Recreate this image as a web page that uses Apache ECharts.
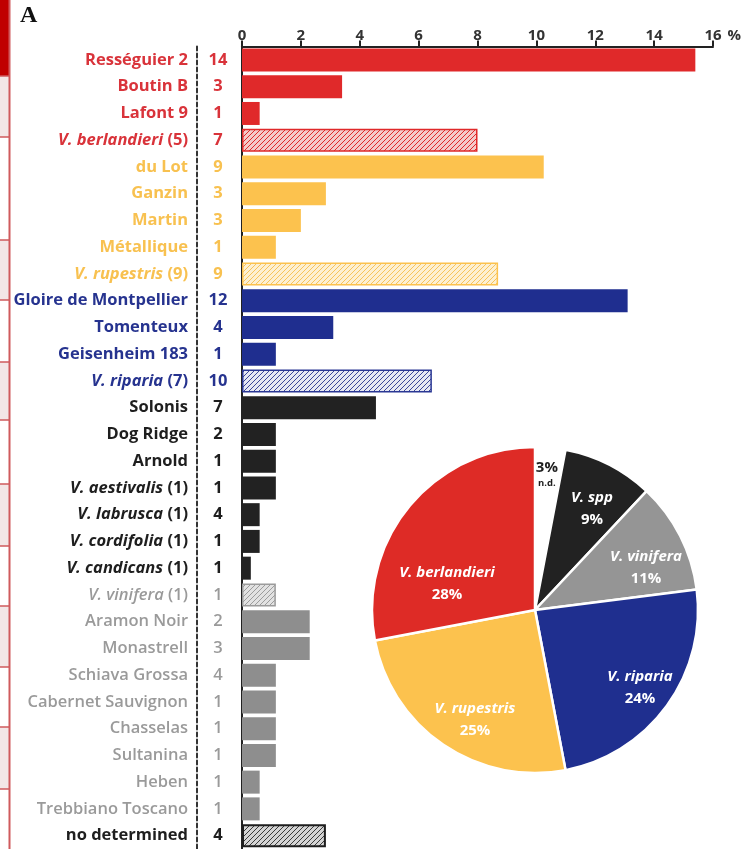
<!DOCTYPE html>
<html><head><meta charset="utf-8">
<script src="https://cdn.jsdelivr.net/npm/echarts@6/dist/echarts.min.js"></script>
<style>html,body{margin:0;padding:0;background:#fff}#c{width:745px;height:849px}</style>
</head><body><div id="c"></div>
<script>
// ---------- data ----------
const categories = ['Rességuier 2','Boutin B','Lafont 9','V. berlandieri (5)','du Lot','Ganzin','Martin','Métallique','V. rupestris (9)','Gloire de Montpellier','Tomenteux','Geisenheim 183','V. riparia (7)','Solonis','Dog Ridge','Arnold','V. aestivalis (1)','V. labrusca (1)','V. cordifolia (1)','V. candicans (1)','V. vinifera (1)','Aramon Noir','Monastrell','Schiava Grossa','Cabernet Sauvignon','Chasselas','Sultanina','Heben','Trebbiano Toscano','no determined'];
const counts = [14,3,1,7,9,3,3,1,9,12,4,1,10,7,2,1,1,4,1,1,1,2,3,4,1,1,1,1,1,4];
const percentages = [15.4,3.4,0.6,8.0,10.25,2.85,2.0,1.15,8.7,13.1,3.1,1.15,6.45,4.55,1.15,1.15,1.15,0.6,0.6,0.3,1.15,2.3,2.3,1.15,1.15,1.15,1.15,0.6,0.6,2.85];
const groups = ['r','r','r','r','y','y','y','y','y','b','b','b','b','k','k','k','k','k','k','k','g','g','g','g','g','g','g','g','g','k'];
const hatchedRows = [3,8,12,20,29];
const xTicks = {min:0, max:16, step:2, unit:'%'};
const pieNames = ['n.d.','V. spp','V. vinifera','V. riparia','V. rupestris','V. berlandieri'];
const pieValues = [3,9,11,24,25,28];
const pieLabels = ['3%','9%','11%','24%','25%','28%'];

// ---------- styles ----------
const FONT = 'Open Sans';
const textColors = {r:'#d9333a', y:'#f8c150', b:'#26338f', k:'#1e1e1e', g:'#9a9a9a'};
const barColors  = {r:'#e0292a', y:'#fcc24e', b:'#1f2e8f', k:'#222222', g:'#8e8e8e'};
const hatchStyle = {
  r:{bg:'#f3caca', line:'#e0292a', border:'#e0292a'},
  y:{bg:'#fdf0d2', line:'#f7c45a', border:'#fcc24e'},
  b:{bg:'#e6e8f3', line:'#3a4699', border:'#2a3794'},
  g:{bg:'#e2e2e2', line:'#9c9c9c', border:'#9c9c9c'},
  k:{bg:'#d4d4d4', line:'#3a3a3a', border:'#1e1e1e'}
};
function hatch(g){
  const s = hatchStyle[g];
  const c = document.createElement('canvas');
  c.width = 5; c.height = 5;
  const x = c.getContext('2d');
  x.fillStyle = s.bg; x.fillRect(0,0,5,5);
  x.strokeStyle = s.line; x.lineWidth = 1;
  x.beginPath();
  x.moveTo(-1,6); x.lineTo(6,-1);
  x.moveTo(-1,1); x.lineTo(1,-1);
  x.moveTo(4,6); x.lineTo(6,4);
  x.stroke();
  return {image:c, repeat:'repeat'};
}

const barData = percentages.map((v,i)=>{
  const g = groups[i];
  if (hatchedRows.includes(i)) {
    const h = i===29 ? 'k' : g;
    return {value:v, itemStyle:{color:hatch(h), borderColor:hatchStyle[h].border, borderWidth:i===29?2:1.5}};
  }
  return {value:v, itemStyle:{color:barColors[g]}};
});

const rich = {};
Object.keys(textColors).forEach(g=>{
  const w = g==='g' ? 600 : 'bold';
  rich[g]     = {color:textColors[g], fontFamily:FONT, fontSize:16.5, fontWeight:w};
  rich[g+'i'] = {color:textColors[g], fontFamily:FONT, fontSize:16.5, fontWeight:w, fontStyle:'italic'};
});

function nameLabel(v, i){
  const g = groups[i];
  const m = v.match(/^(V\. [a-z]+)(.*)$/);
  if (m) return '{'+g+'i|'+m[1]+'}{'+g+'|'+m[2]+'}';
  return '{'+g+'|'+v+'}';
}

const pieColors = ['#ffffff','#222222','#959595','#1f2f8f','#fcc24e','#de2b26'];
const pieCenter = [535, 610];
const pieRadius = 163;
// label placement inside the pie: [angle clockwise from top (deg), distance from centre (px)]
const pieLabelPolar = [[5,136],[29.4,116],[69.3,118.7],[126.6,130.8],[208.6,125.3],[286.5,91.8]];

// left border decoration (cropped table edge)
const bands = [0,76,137,240,300,362,420,484,546,606,667,727,789,849];
const graphics = [];
for (let k=0;k<bands.length-1;k++){
  const fill = k===0 ? '#c00000' : (k%2===1 ? '#f3e7e7' : '#ffffff');
  graphics.push({type:'rect', shape:{x:0,y:bands[k],width:9,height:bands[k+1]-bands[k]}, style:{fill:fill}, silent:true});
  if (k>0) graphics.push({type:'line', shape:{x1:0,y1:bands[k],x2:10,y2:bands[k]}, style:{stroke:'#cf5a5d', lineWidth:1.5}, silent:true});
}
graphics.push({type:'line', shape:{x1:9.5,y1:0,x2:9.5,y2:849}, style:{stroke:'#cf5a5d', lineWidth:2}, silent:true});
graphics.push({type:'text', left:20, top:4, style:{text:'A', font:'bold 24px "Liberation Serif"', fill:'#111'}});

const chart = echarts.init(document.getElementById('c'));
chart.setOption({
  backgroundColor:'#fff',
  animation:false,
  graphic: graphics,
  grid:{left:242, right:32, top:46.6, bottom:-0.9, containLabel:false},
  xAxis:{
    type:'value', position:'top', min:xTicks.min, max:xTicks.max, interval:xTicks.step,
    axisLine:{show:true, lineStyle:{color:'#222', width:2}},
    axisTick:{show:true, length:6, lineStyle:{color:'#222', width:2}},
    axisLabel:{fontFamily:FONT, fontWeight:'bold', fontSize:15, color:'#333', margin:3},
    splitLine:{show:false},
    name:xTicks.unit, nameLocation:'end', nameGap:11,
    nameTextStyle:{fontFamily:FONT, fontWeight:'bold', fontSize:15, color:'#333', verticalAlign:'bottom', padding:[0,0,3,0]}
  },
  yAxis:[
    {type:'category', inverse:true, data:categories, position:'left', offset:45,
     axisLine:{show:true, onZero:false, lineStyle:{color:'#333', width:2, type:[4,3]}},
     axisTick:{show:false},
     axisLabel:{margin:9, formatter:nameLabel, rich:rich, interval:0}},
    {type:'category', inverse:true, data:categories, position:'left', offset:0,
     axisLine:{show:true, onZero:false, lineStyle:{color:'#222', width:2}},
     axisTick:{show:false},
     axisLabel:{margin:24, align:'center', interval:0, rich:rich,
       formatter:(v,i)=>'{'+groups[i]+'|'+counts[i]+'}'}}
  ],
  series:[
    {type:'bar', yAxisIndex:1, data:barData, barCategoryGap:'14%', z:2},
    {type:'pie', z:5, center:pieCenter, radius:pieRadius, startAngle:90, clockwise:true,
     data:pieNames.map((n,i)=>({name:n, value:pieValues[i], itemStyle:{color:pieColors[i]}})),
     itemStyle:{borderColor:'#fff', borderWidth:2.5},
     emphasis:{disabled:true},
     labelLine:{show:false},
     label:{show:true, position:'inside',
       formatter:p=> p.dataIndex===0 ? '{nd|'+pieLabels[0]+'}\n{nds|n.d.}' : '{n|'+p.name+'}\n{p|'+pieLabels[p.dataIndex]+'}',
       rich:{
         n:{color:'#fff', fontFamily:FONT, fontSize:15, fontWeight:'bold', fontStyle:'italic', lineHeight:22, align:'center'},
         p:{color:'#fff', fontFamily:FONT, fontSize:15, fontWeight:'bold', lineHeight:22, align:'center'},
         nd:{color:'#1e1e1e', fontFamily:FONT, fontSize:15, fontWeight:'bold', lineHeight:18, align:'center'},
         nds:{color:'#1e1e1e', fontFamily:FONT, fontSize:9.5, fontWeight:'bold', lineHeight:14, align:'center'}
       }},
     labelLayout:function(params){
       const pl = pieLabelPolar[params.dataIndex];
       const a = pl[0]*Math.PI/180;
       return {x:pieCenter[0]+pl[1]*Math.sin(a), y:pieCenter[1]-pl[1]*Math.cos(a), align:'center', verticalAlign:'middle'};
     }}
  ]
});
</script></body></html>
